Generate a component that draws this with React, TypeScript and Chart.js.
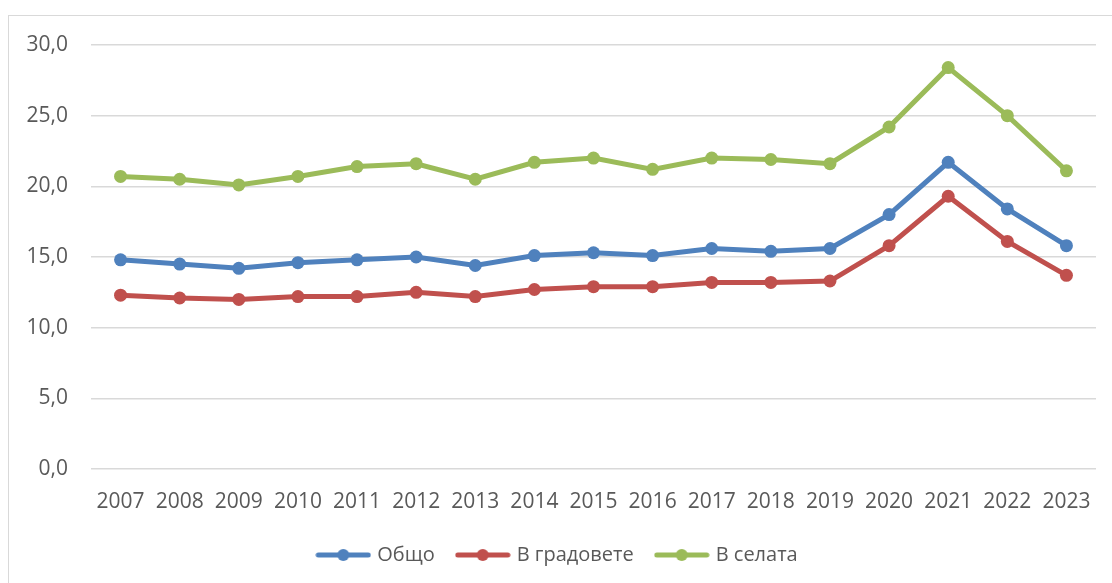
import React, { useEffect, useRef } from "react";
import { Chart, registerables } from "chart.js";

Chart.register(...registerables);

const years = ["2007", "2008", "2009", "2010", "2011", "2012", "2013", "2014", "2015", "2016", "2017", "2018", "2019", "2020", "2021", "2022", "2023"];
const total = [14.8, 14.5, 14.2, 14.6, 14.8, 15.0, 14.4, 15.1, 15.3, 15.1, 15.6, 15.4, 15.6, 18.0, 21.7, 18.4, 15.8];
const cities = [12.3, 12.1, 12.0, 12.2, 12.2, 12.5, 12.2, 12.7, 12.9, 12.9, 13.2, 13.2, 13.3, 15.8, 19.3, 16.1, 13.7];
const villages = [20.7, 20.5, 20.1, 20.7, 21.4, 21.6, 20.5, 21.7, 22.0, 21.2, 22.0, 21.9, 21.6, 24.2, 28.4, 25.0, 21.1];
const seriesNames = ["Общо", "В градовете", "В селата"];
const seriesColors = ["#4F81BD", "#C0504D", "#9BBB59"];

const FONT = "'Open Sans', sans-serif";
const TEXT = "#595959";

function legendIcon(color: string) {
  const c = document.createElement("canvas");
  c.width = 56;
  c.height = 14;
  const ctx = c.getContext("2d")!;
  ctx.strokeStyle = color;
  ctx.lineWidth = 5;
  ctx.lineCap = "round";
  ctx.beginPath();
  ctx.moveTo(3, 7);
  ctx.lineTo(53, 7);
  ctx.stroke();
  ctx.fillStyle = color;
  ctx.beginPath();
  ctx.arc(28, 7, 6, 0, Math.PI * 2);
  ctx.fill();
  return c;
}

function zeroPad(s: any) {
  s.paddingTop = 0;
  s.paddingBottom = 0;
  s.paddingLeft = 0;
  s.paddingRight = 0;
}

export default function App() {
  const ref = useRef<HTMLCanvasElement | null>(null);
  useEffect(() => {
    if (!ref.current) return;
    const data = [total, cities, villages];
    const chart = new Chart(ref.current, {
      type: "line",
      data: {
        labels: years,
        datasets: data.map((d, i) => ({
          label: seriesNames[i],
          data: d,
          borderColor: seriesColors[i],
          backgroundColor: seriesColors[i],
          borderWidth: 5,
          pointRadius: 6.5,
          pointBorderWidth: 0,
          pointStyle: "circle",
          tension: 0,
        })),
      },
      options: {
        responsive: false,
        animation: false,
        devicePixelRatio: 1,
        layout: { padding: { left: 12, top: 29, right: 12, bottom: 8 } },
        plugins: {
          tooltip: { enabled: false },
          legend: {
            position: "bottom",
            labels: {
              usePointStyle: true,
              pointStyleWidth: 48,
              padding: 24,
              color: TEXT,
              font: { family: FONT, size: 20 },
              generateLabels: (ch: any) =>
                ch.data.datasets.map((ds: any, i: number) => ({
                  text: ds.label,
                  fillStyle: seriesColors[i],
                  strokeStyle: seriesColors[i],
                  pointStyle: legendIcon(seriesColors[i]),
                  fontColor: TEXT,
                  lineWidth: 0,
                  hidden: false,
                  datasetIndex: i,
                })),
            },
          },
        },
        scales: {
          x: {
            offset: true,
            grid: { display: false, drawTicks: false },
            border: { display: false },
            ticks: { color: TEXT, font: { family: FONT, size: 21 }, padding: 20, maxRotation: 0, autoSkip: false },
            afterFit: (s: any) => {
              s.height = 52;
              zeroPad(s);
            },
          },
          y: {
            min: 0,
            max: 30,
            grid: { color: "#d9d9d9", lineWidth: 1.4, drawTicks: false },
            border: { display: false },
            ticks: {
              stepSize: 5,
              padding: 23,
              color: TEXT,
              font: { family: FONT, size: 21 },
              callback: (v: any) => Number(v).toFixed(1).replace(".", ","),
            },
            afterFit: (s: any) => {
              s.width = 70;
              zeroPad(s);
            },
          },
        },
      },
    });
    return () => chart.destroy();
  }, []);
  return (
    <div
      style={{
        position: "absolute",
        left: 8,
        top: 15,
        width: 1120,
        height: 600,
        border: "1px solid #d9d9d9",
        background: "#fff",
      }}
    >
      <canvas ref={ref} width={1099} height={567} style={{ display: "block" }} />
    </div>
  );
}
